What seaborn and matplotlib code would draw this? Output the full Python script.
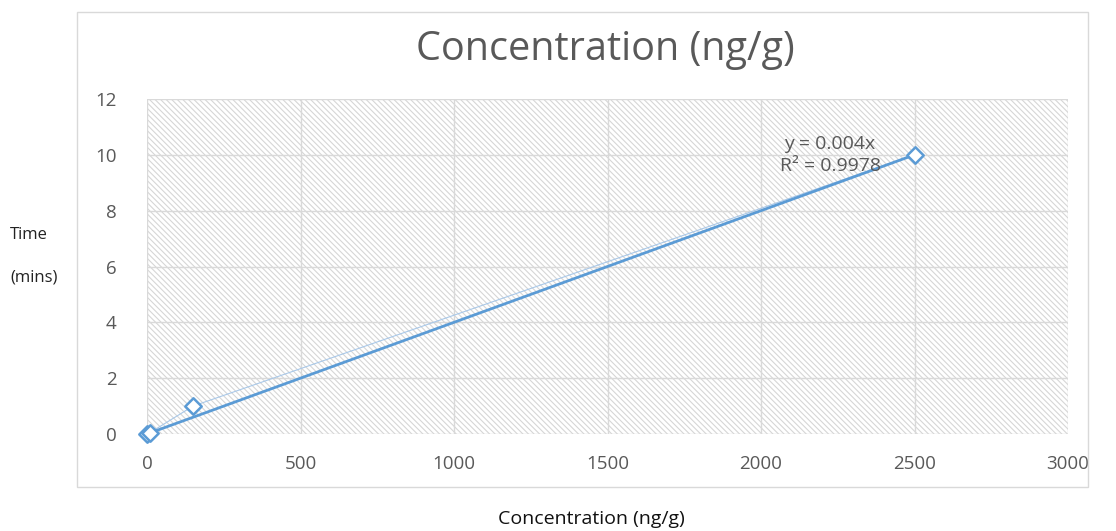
import matplotlib
matplotlib.use("Agg")
import matplotlib.pyplot as plt
import seaborn as sns
import pandas as pd
from matplotlib.patches import Rectangle

concentration = [0, 10, 150, 2500]
time_mins = [0, 0.05, 1, 10]
slope = 0.004
r_squared = 0.9978
x_ticks = [0, 500, 1000, 1500, 2000, 2500, 3000]
y_ticks = [0, 2, 4, 6, 8, 10, 12]

sns.set_theme(style="white")
plt.rcParams['font.family'] = ['Open Sans', 'DejaVu Sans']
plt.rcParams['hatch.linewidth'] = 0.8

W, H = 1116, 531
fig = plt.figure(figsize=(W / 100, H / 100), dpi=100)
ax = fig.add_axes([147 / W, 1 - 434 / H, (1068 - 147) / W, (434 - 99) / H])

# outer chart area border
fig.patches.append(Rectangle((77 / W, 1 - 487 / H), (1088 - 77) / W, (487 - 12) / H,
                             transform=fig.transFigure, fill=False,
                             edgecolor='#d9d9d9', lw=1, zorder=0))

# hatched plot area
ax.add_patch(Rectangle((0, 0), 1, 1, transform=ax.transAxes, facecolor='white',
                       edgecolor='#d6d6d6', hatch='\\\\\\\\\\\\', lw=0, zorder=0))

df = pd.DataFrame({"conc": concentration, "time": time_mins})

ax.set_xlim(x_ticks[0], x_ticks[-1])
ax.set_ylim(y_ticks[0], y_ticks[-1])
ax.set_xticks(x_ticks)
ax.set_yticks(y_ticks)
ax.grid(True, color='#d9d9d9', lw=1, zorder=1)
ax.set_axisbelow(True)
for s in ax.spines.values():
    s.set_visible(False)

# data line (thin)
sns.lineplot(data=df, x="conc", y="time", ax=ax, color='#a9c8e8', lw=0.8,
             sort=False, zorder=3)
# trendline
tx = [0, max(concentration)]
ty = [slope * v for v in tx]
ax.plot(tx, ty, color='#5b9bd5', lw=2, zorder=4, clip_on=False)
# markers
sns.scatterplot(data=df, x="conc", y="time", ax=ax, marker='D', s=70,
                facecolor='white', edgecolor='#5b9bd5', linewidth=1.8,
                zorder=5, clip_on=False)

ax.set_xlabel("")
ax.set_ylabel("")
ax.tick_params(axis='both', colors='#595959', labelsize=13.5, length=0)
ax.tick_params(axis='x', pad=15)
ax.tick_params(axis='y', pad=22)

ax.text(2225, 10.4, f"y = {slope}x", ha='center', va='center',
        color='#595959', fontsize=14, zorder=6)
ax.text(2225, 9.6, f"R² = {r_squared}", ha='center', va='center',
        color='#595959', fontsize=14, zorder=6)

fig.text(605 / W, 1 - 50 / H, "Concentration (ng/g)", ha='center', va='center',
         color='#595959', fontsize=28.5)
fig.text(29 / W, 1 - 235 / H, "Time", ha='center', va='center',
         color='#222222', fontsize=12)
fig.text(34 / W, 1 - 278 / H, "(mins)", ha='center', va='center',
         color='#222222', fontsize=12)
fig.text(591 / W, 1 - 519 / H, "Concentration (ng/g)", ha='center', va='center',
         color='#111111', fontsize=14)

fig.savefig("out.png", dpi=100, facecolor='white')
